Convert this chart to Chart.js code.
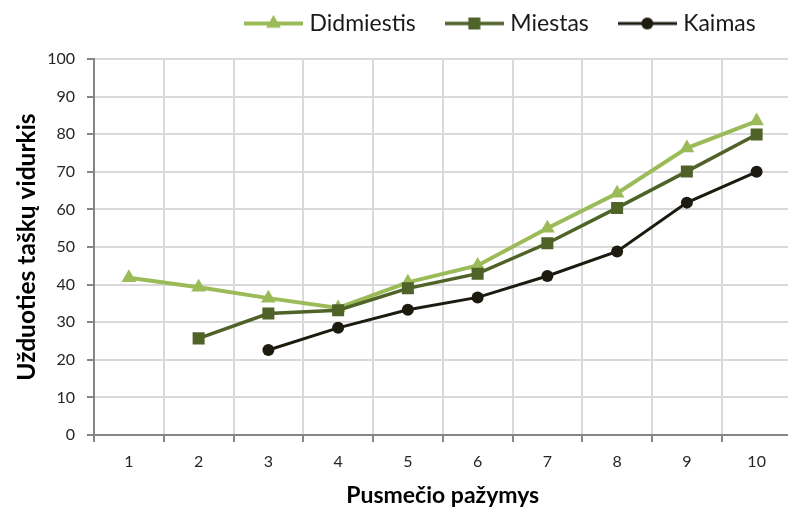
<!DOCTYPE html>
<html><head><meta charset="utf-8">
<script src="https://cdn.jsdelivr.net/npm/chart.js@4/dist/chart.umd.min.js"></script>
<style>
html,body{margin:0;padding:0;background:#fff;overflow:hidden;width:788px;height:509px;}
#wrap{position:relative;width:800px;height:509px;}
canvas{display:block;}
</style></head><body>
<div id="wrap"><canvas id="c" width="800" height="509"></canvas></div>
<script>
const categories = ['1','2','3','4','5','6','7','8','9','10'];
const seriesNames = ['Didmiestis','Miestas','Kaimas'];
const didmiestis = [41.8, 39.3, 36.4, 33.8, 40.6, 45.1, 55.0, 64.3, 76.3, 83.5];
const miestas = [null, 25.7, 32.3, 33.2, 39.0, 42.9, 51.0, 60.4, 70.1, 79.9];
const kaimas = [null, null, 22.6, 28.5, 33.3, 36.6, 42.3, 48.8, 61.8, 70.0];
const yTickValues = [0, 10, 20, 30, 40, 50, 60, 70, 80, 90, 100];
const xTitle = 'Pusmečio pažymys';
const yTitle = 'Užduoties taškų vidurkis';

const colors = ['#9BBB59', '#4F6228', '#1D1B10'];
const lineWidths = [4, 3.5, 3];
const pStyles = ['triangle', 'rect', 'circle'];
const pRadius = [8.5, 8.5, 6];
const FONT = 'Lato, "Open Sans", sans-serif';

function legendIcon(i) {
  const cv = document.createElement('canvas');
  cv.width = 59; cv.height = 18;
  const g = cv.getContext('2d');
  g.strokeStyle = colors[i]; g.fillStyle = colors[i];
  g.lineWidth = lineWidths[i];
  g.beginPath(); g.moveTo(0, 9); g.lineTo(59, 9); g.stroke();
  const r = pRadius[i];
  g.beginPath();
  if (pStyles[i] === 'triangle') {
    g.moveTo(29.5, 9 - r);
    g.lineTo(29.5 + Math.sin(Math.PI/3)*r, 9 + r/2);
    g.lineTo(29.5 - Math.sin(Math.PI/3)*r, 9 + r/2);
    g.closePath();
  } else if (pStyles[i] === 'rect') {
    const s = r * Math.SQRT1_2;
    g.rect(29.5 - s, 9 - s, 2*s, 2*s);
  } else {
    g.arc(29.5, 9, r, 0, Math.PI*2);
  }
  g.fill();
  return cv;
}
const icons = [0,1,2].map(legendIcon);

const seriesData = [didmiestis, miestas, kaimas];
const datasets = seriesData.map((d, i) => ({
  label: seriesNames[i],
  data: d,
  borderColor: colors[i],
  backgroundColor: colors[i],
  borderWidth: lineWidths[i],
  pointStyle: pStyles[i],
  pointRadius: pRadius[i],
  pointHoverRadius: pRadius[i],
  pointBorderWidth: 0,
  pointBackgroundColor: colors[i],
  tension: 0,
  order: 3 - i,
  clip: 10
}));

const LEG_H = 59, LEG_DY = -22;
const legendFix = {
  id: 'legendFix',
  afterInit(chart) {
    const lg = chart.legend;
    const orig = lg.fit.bind(lg);
    lg.fit = function() { orig(); this.height = LEG_H; };
  },
  afterLayout(chart) {
    const lg = chart.legend;
    lg.left = 249 - lg.options.labels.padding;
    lg.right = 1200;
    lg.top += LEG_DY;
  }
};

new Chart(document.getElementById('c'), {
  type: 'line',
  data: { labels: categories, datasets },
  plugins: [legendFix],
  options: {
    responsive: false,
    animation: false,
    devicePixelRatio: 1,
    layout: { padding: { left: 0, right: 5, top: 0, bottom: 0 } },
    plugins: {
      tooltip: { enabled: false },
      legend: {
        position: 'top',
        align: 'start',
        labels: {
          font: { family: FONT, size: 23 },
          color: '#1a1a1a',
          usePointStyle: true,
          pointStyleWidth: 49,
          boxHeight: 18,
          padding: 34,
          generateLabels: () => seriesNames.map((n, i) => ({
            text: n, pointStyle: icons[i], fillStyle: colors[i], strokeStyle: colors[i],
            lineWidth: 0, hidden: false, datasetIndex: i, fontColor: '#1a1a1a'
          }))
        }
      }
    },
    scales: {
      x: {
        type: 'category',
        offset: true,
        afterFit: s => { s.height = 74; },
        grid: { offset: true, color: '#d9d9d9', lineWidth: 2, tickColor: '#868686', tickWidth: 2, tickLength: 7 },
        border: { color: '#868686', width: 2 },
        ticks: { font: { family: FONT, size: 16 }, color: '#262626', padding: 10, maxRotation: 0 },
        title: { display: true, text: xTitle, font: { family: FONT, size: 23, weight: 'bold' }, color: '#000', padding: { top: 0, bottom: 0 } }
      },
      y: {
        min: 0, max: 100,
        afterFit: s => { s.width = 94; },
        afterBuildTicks: s => { s.ticks = yTickValues.map(v => ({ value: v })); },
        grid: { color: '#d9d9d9', lineWidth: 2, tickColor: '#868686', tickWidth: 2, tickLength: 7 },
        border: { color: '#868686', width: 2 },
        ticks: { font: { family: FONT, size: 16 }, color: '#262626', padding: 12 },
        title: { display: true, text: yTitle, font: { family: FONT, size: 24.5, weight: 'bold' }, color: '#000', padding: { top: 12, bottom: 0 } }
      }
    }
  }
});
</script>
</body></html>
